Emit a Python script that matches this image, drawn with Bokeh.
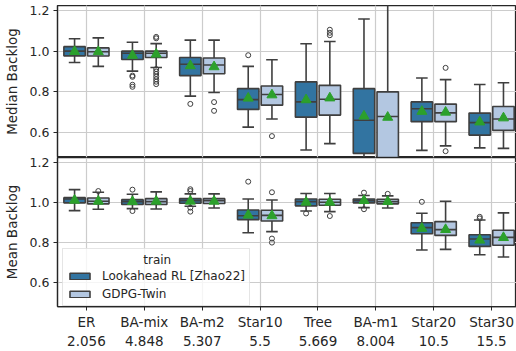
from bokeh.plotting import figure
from bokeh.models import (ColumnDataSource, Range1d, FixedTicker, Grid, Legend,
                          LegendItem, PrintfTickFormatter)
from bokeh.transform import dodge
from bokeh.layouts import column
from bokeh.embed import file_html
from bokeh.resources import INLINE

# ---------------- data ----------------
CATEGORIES = ["ER", "BA-mix", "BA-m2", "Star10", "Tree", "BA-m1", "Star20", "Star30"]
AVG_DEGREE = ["2.056", "4.848", "5.307", "5.5", "5.669", "8.004", "10.5", "15.5"]
SERIES = ["Lookahead RL [Zhao22]", "GDPG-Twin"]
LEGEND_TITLE = "train"

# (whisker low, q1, median, q3, whisker high) per category
MED_RL_BOX = [(0.944, 0.977, 1.000, 1.022, 1.061), (0.902, 0.959, 0.990, 1.000, 1.044),
              (0.779, 0.880, 0.936, 0.969, 1.054), (0.627, 0.714, 0.762, 0.816, 0.925),
              (0.515, 0.676, 0.751, 0.849, 1.036), (0.400, 0.498, 0.661, 0.816, 1.158),
              (0.513, 0.654, 0.717, 0.751, 0.868), (0.525, 0.588, 0.649, 0.696, 0.836)]
MED_RL_MEAN = [0.998, 0.979, 0.928, 0.769, 0.761, 0.681, 0.704, 0.652]
MED_RL_OUT = [[], [0.880, 0.874, 0.835, 0.825], [0.741], [0.980], [], [], [], []]

MED_GD_BOX = [(0.925, 0.976, 0.997, 1.016, 1.065), (0.920, 0.969, 0.990, 1.000, 1.037),
              (0.797, 0.889, 0.932, 0.966, 1.054), (0.667, 0.735, 0.787, 0.829, 0.958),
              (0.546, 0.686, 0.764, 0.832, 1.047), (0.300, 0.450, 0.679, 0.800, 1.350),
              (0.535, 0.654, 0.697, 0.740, 0.860), (0.523, 0.611, 0.667, 0.728, 0.845)]
MED_GD_MEAN = [0.997, 0.985, 0.923, 0.785, 0.770, 0.675, 0.700, 0.672]
MED_GD_OUT = [[], [1.070, 1.063, 0.912, 0.900, 0.888, 0.875, 0.862, 0.850, 0.838],
              [0.750, 0.707], [0.583], [1.105, 1.090, 1.078], [], [0.918, 0.509], []]

MEAN_RL_BOX = [(0.958, 0.997, 1.016, 1.023, 1.063), (0.968, 0.989, 1.003, 1.013, 1.040),
               (0.980, 0.995, 1.008, 1.018, 1.042), (0.847, 0.913, 0.932, 0.961, 1.016),
               (0.956, 0.982, 1.003, 1.016, 1.044), (0.973, 0.997, 1.008, 1.016, 1.034),
               (0.761, 0.842, 0.873, 0.897, 0.945), (0.737, 0.779, 0.816, 0.837, 0.911)]
MEAN_RL_MEAN = [1.010, 1.003, 1.005, 0.935, 1.000, 1.008, 0.869, 0.810]
MEAN_RL_OUT = [[], [1.063, 0.956], [1.065, 1.056, 0.973, 0.953], [1.103], [0.944],
               [1.048, 0.965], [1.002], [0.927, 0.919]]

MEAN_GD_BOX = [(0.965, 0.992, 1.005, 1.021, 1.050), (0.966, 0.989, 1.003, 1.018, 1.052),
               (0.971, 0.994, 1.008, 1.018, 1.042), (0.853, 0.906, 0.934, 0.960, 1.011),
               (0.953, 0.985, 1.000, 1.015, 1.044), (0.971, 0.992, 1.003, 1.015, 1.032),
               (0.764, 0.834, 0.863, 0.903, 1.005), (0.726, 0.785, 0.824, 0.860, 0.947)]
MEAN_GD_MEAN = [1.005, 1.005, 1.005, 0.932, 1.000, 1.003, 0.863, 0.823]
MEAN_GD_OUT = [[1.056], [], [], [1.050, 0.818, 0.798], [0.931], [1.042], [], []]

Y_TICKS = [0.6, 0.8, 1.0, 1.2]

# ---------------- style ----------------
FONT = "DejaVu Sans"
TXT = "#262626"
EDGE = "#3f3f3f"
GRID = "#cccccc"
FILLS = ["#3274a1", "#b3c7e1"]
MEAN_COLOR = "#2ca02c"
OFFSETS = [-0.205, 0.205]
BOX_W = 0.37
CAP_W = 0.2
OVERLAP = 6  # px the lower panel's canvas slides under the upper one
TITLE_PAD = "\u00a0" * 20  # centres the legend title over the entries

x_range = Range1d(-0.5, 7.43)
X_IDX = list(range(len(CATEGORIES)))


def make_fig(height, ylabel, with_xaxis, border_top, border_bottom):
    p = figure(width=516, height=height, x_range=x_range, y_range=Range1d(0.478, 1.224),
               output_backend="svg", toolbar_location=None,
               x_axis_location="below" if with_xaxis else None,
               min_border_left=52, min_border_right=0,
               min_border_top=border_top, min_border_bottom=border_bottom)
    p.outline_line_color = TXT
    p.outline_line_width = 1.25
    p.background_fill_color = "white"
    p.border_fill_color = "white"

    ya = p.yaxis[0]
    ya.ticker = FixedTicker(ticks=Y_TICKS)
    ya.formatter = PrintfTickFormatter(format="%.1f")
    ya.axis_label = ylabel
    ya.axis_label_text_font = FONT
    ya.axis_label_text_font_size = "13.5px"
    ya.axis_label_text_font_style = "normal"
    ya.axis_label_text_color = TXT
    ya.axis_label_standoff = 7
    ya.major_label_text_font = FONT
    ya.major_label_text_font_size = "12.5px"
    ya.major_label_text_color = TXT
    ya.major_label_standoff = 4
    ya.major_tick_out = 4
    ya.major_tick_in = 0
    ya.minor_tick_out = 0
    ya.minor_tick_in = 0
    ya.major_tick_line_color = TXT
    ya.axis_line_color = TXT
    ya.axis_line_width = 1.25

    p.ygrid.ticker = FixedTicker(ticks=Y_TICKS)
    p.ygrid.grid_line_color = GRID
    p.ygrid.grid_line_width = 1.2

    if with_xaxis:
        xa = p.xaxis[0]
        xa.ticker = FixedTicker(ticks=X_IDX)
        xa.major_label_overrides = {i: f"{c}\n{d}" for i, (c, d) in
                                    enumerate(zip(CATEGORIES, AVG_DEGREE))}
        xa.major_label_text_font = FONT
        xa.major_label_text_font_size = "13.5px"
        xa.major_label_text_color = TXT
        xa.major_label_standoff = 3
        xa.major_tick_out = 4
        xa.major_tick_in = 0
        xa.minor_tick_out = 0
        xa.minor_tick_in = 0
        xa.major_tick_line_color = TXT
        xa.axis_line_color = TXT
        xa.axis_line_width = 1.25
        p.xgrid.ticker = FixedTicker(ticks=X_IDX)
        p.xgrid.grid_line_color = GRID
        p.xgrid.grid_line_width = 1.2
    else:
        p.add_layout(Grid(dimension=0, ticker=FixedTicker(ticks=X_IDX),
                          grid_line_color=GRID, grid_line_width=1.2))
    return p


def draw_series(p, boxes, means, outliers, s):
    off = OFFSETS[s]
    src = ColumnDataSource(dict(
        x=X_IDX,
        lo=[b[0] for b in boxes], q1=[b[1] for b in boxes], med=[b[2] for b in boxes],
        q3=[b[3] for b in boxes], hi=[b[4] for b in boxes], mean=means))
    lw = 1.6
    p.segment(x0=dodge("x", off), y0="lo", x1=dodge("x", off), y1="q1", source=src,
              line_color=EDGE, line_width=lw)
    p.segment(x0=dodge("x", off), y0="q3", x1=dodge("x", off), y1="hi", source=src,
              line_color=EDGE, line_width=lw)
    p.segment(x0=dodge("x", off - CAP_W / 2), y0="lo", x1=dodge("x", off + CAP_W / 2), y1="lo",
              source=src, line_color=EDGE, line_width=lw)
    p.segment(x0=dodge("x", off - CAP_W / 2), y0="hi", x1=dodge("x", off + CAP_W / 2), y1="hi",
              source=src, line_color=EDGE, line_width=lw)
    box = p.vbar(x=dodge("x", off), width=BOX_W, bottom="q1", top="q3", source=src,
                 fill_color=FILLS[s], line_color=EDGE, line_width=lw)
    p.segment(x0=dodge("x", off - BOX_W / 2), y0="med", x1=dodge("x", off + BOX_W / 2),
              y1="med", source=src, line_color=EDGE, line_width=lw)
    ox, oy = [], []
    for i, vals in enumerate(outliers):
        for v in vals:
            ox.append(i)
            oy.append(v)
    osrc = ColumnDataSource(dict(x=ox, y=oy))
    p.scatter(x=dodge("x", off), y="y", source=osrc, marker="circle", size=5,
              fill_alpha=0, line_color=EDGE, line_width=1)
    p.scatter(x=dodge("x", off), y="mean", source=src, marker="triangle", size=10,
              fill_color=MEAN_COLOR, line_color=MEAN_COLOR)
    return box


top = make_fig(157, "Median Backlog", False, 5, 0)
draw_series(top, MED_RL_BOX, MED_RL_MEAN, MED_RL_OUT, 0)
draw_series(top, MED_GD_BOX, MED_GD_MEAN, MED_GD_OUT, 1)

bot = make_fig(194 + OVERLAP, "Mean Backlog", True, OVERLAP, 41)
bot.border_fill_alpha = 0
bot.styles = {"margin-top": f"-{OVERLAP}px"}
r0 = draw_series(bot, MEAN_RL_BOX, MEAN_RL_MEAN, MEAN_RL_OUT, 0)
r1 = draw_series(bot, MEAN_GD_BOX, MEAN_GD_MEAN, MEAN_GD_OUT, 1)

legend = Legend(items=[LegendItem(label=SERIES[0], renderers=[r0]),
                       LegendItem(label=SERIES[1], renderers=[r1])],
                location=(5, 0), title=TITLE_PAD + LEGEND_TITLE,
                title_text_font=FONT, title_text_font_size="12px",
                title_text_font_style="normal", title_text_color=TXT, title_standoff=2,
                label_text_font=FONT, label_text_font_size="12px", label_text_color=TXT,
                glyph_width=25, glyph_height=8, label_standoff=10, label_height=12,
                padding=4, spacing=4, margin=0,
                border_line_color=GRID, border_line_width=1,
                background_fill_color="white", background_fill_alpha=0.8)
bot.add_layout(legend)

layout = column(top, bot, spacing=0)
open("out.html", "w").write(file_html(layout, INLINE))
